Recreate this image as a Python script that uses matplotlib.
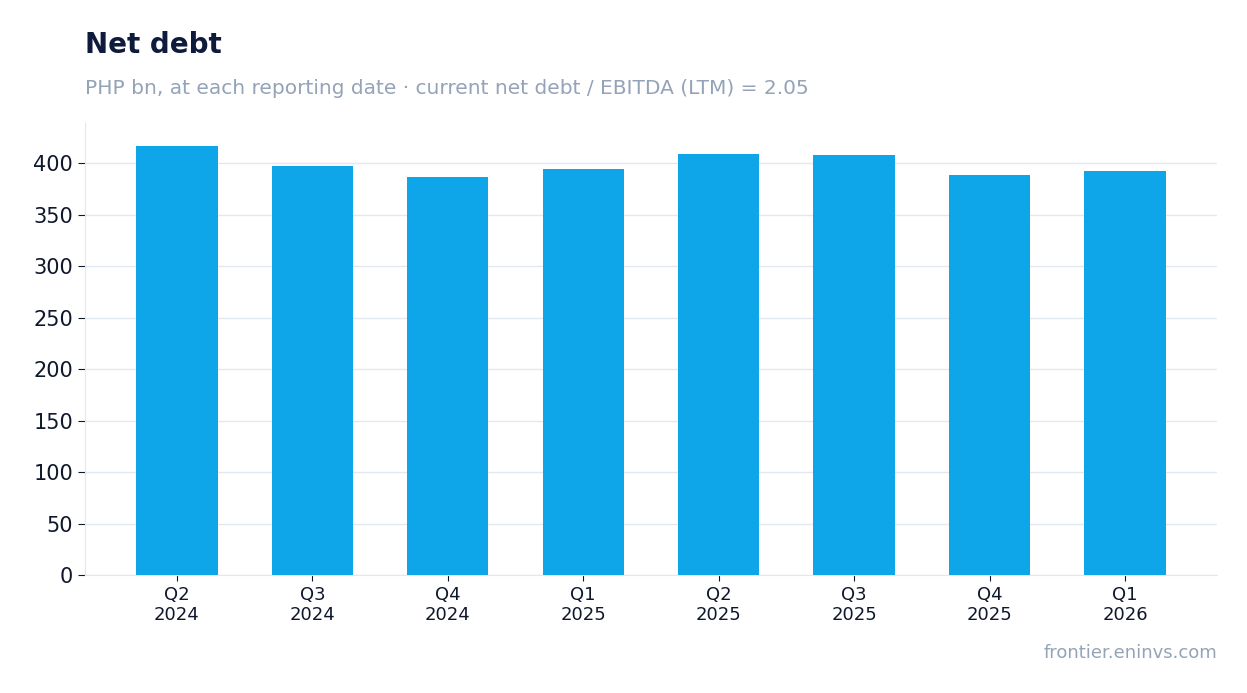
import matplotlib
matplotlib.use("Agg")
import matplotlib.pyplot as plt

categories = ["Q2\n2024", "Q3\n2024", "Q4\n2024", "Q1\n2025", "Q2\n2025", "Q3\n2025", "Q4\n2025", "Q1\n2026"]
values = [417, 398, 387, 395, 409, 408, 389, 393]

fig = plt.figure(figsize=(12.47, 6.93), dpi=100)
ax = fig.add_axes([0.068, 0.170, 0.908, 0.652])
x = range(len(categories))
ax.bar(x, values, width=0.6, color="#0ea5e9", zorder=3)
ax.set_xlim(-0.68, 7.68)
ax.set_ylim(0, 439)
ax.set_yticks(range(0, 401, 50))
ax.set_xticks(list(x))
ax.set_xticklabels(categories, fontsize=13, color="#0f172a")
ax.tick_params(axis="y", labelsize=15, colors="#0f172a", length=5, color="#0f172a")
ax.tick_params(axis="x", length=4, color="#0f172a")
ax.grid(axis="y", color="#e2e8f0", linewidth=1, zorder=0)
for s in ["top", "right"]:
    ax.spines[s].set_visible(False)
for s in ["left", "bottom"]:
    ax.spines[s].set_color("#e2e8f0")
fig.text(0.068, 0.935, "Net debt", fontsize=20, fontweight="bold", color="#0f1b3d", va="center")
fig.text(0.068, 0.873, "PHP bn, at each reporting date · current net debt / EBITDA (LTM) = 2.05",
         fontsize=14.5, color="#94a3b8", va="center")
fig.text(0.976, 0.058, "frontier.eninvs.com", fontsize=13, color="#94a3b8", ha="right", va="center")
fig.savefig("out.png", dpi=100)
